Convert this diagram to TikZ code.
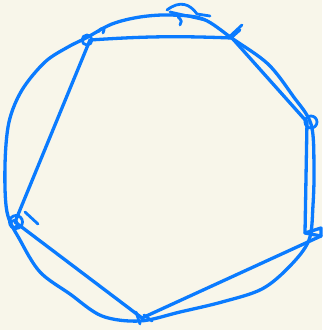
\documentclass[tikz,border=0pt]{standalone}
\usepackage{xcolor}
\usepackage{tikz}
\definecolor{Paper}{HTML}{F8F6EA}
\definecolor{Pen}{HTML}{0A7BFF}
\begin{document}
\begin{tikzpicture}[x=1pt,y=-1pt]
\tikzset{pen/.style={line width=3.3pt,draw=Pen,line cap=round,line join=round}, knot/.style={pen,line width=2.8pt}}
\useasboundingbox[fill=Paper] (0,0) rectangle (322,330);
% corners of the inscribed polygon
\coordinate (A) at (90,40);
\coordinate (B) at (232,38);
\coordinate (C) at (307,122);
\coordinate (D) at (305,233);
\coordinate (Dt) at (321,236);
\coordinate (E) at (142,318);
\coordinate (F) at (15,222);
% outer circle
\draw[pen] plot[smooth cycle,tension=0.55] coordinates {(86,38) (112,24) (140,17) (170,15) (203,19) (233,39) (268,64) (293,96) (311,124) (314,165) (313,205) (309,240) (290,266) (262,289) (222,302) (180,312) (140,321) (102,316) (70,294) (40,272) (20,240) (7,212) (5,165) (9,122) (22,90) (45,62) (68,47)};
% polygon sides
\draw[pen] (A) to[bend left=3] (B);
\draw[pen] (B) -- (C);
\draw[pen] (C) -- (D);
\draw[pen] (D) -- (Dt) -- ++(0,-8) -- cycle;
\draw[pen] (Dt) -- (E);
\draw[pen] (E) -- (F);
\draw[pen] (F) -- (A);
% scribbles at the corners
\draw[knot] (87,40) circle[radius=5];
\draw[knot] (98,32) .. controls (102,26) and (106,28) .. (103,33);
\draw[knot] (311,122) circle[radius=6];
\draw[knot] (16,222) circle[radius=6.5];
\draw[knot] (14,224) circle[radius=3.5];
\draw[knot] (25,212) -- (38,224);
\draw[knot] (167,10) .. controls (180,0) and (190,4) .. (197,14) -- (210,16);
\draw[knot] (170,12) -- (205,20);
\draw[knot] (178,17) .. controls (182,20) and (182,23) .. (180,25);
\draw[knot] (228,38) -- (242,25);
\draw[knot] (231,38) -- (240,30);
\draw[knot] (136,312) -- (140,324);
\draw[knot] (144,315) -- (152,321);
\end{tikzpicture}
\end{document}
